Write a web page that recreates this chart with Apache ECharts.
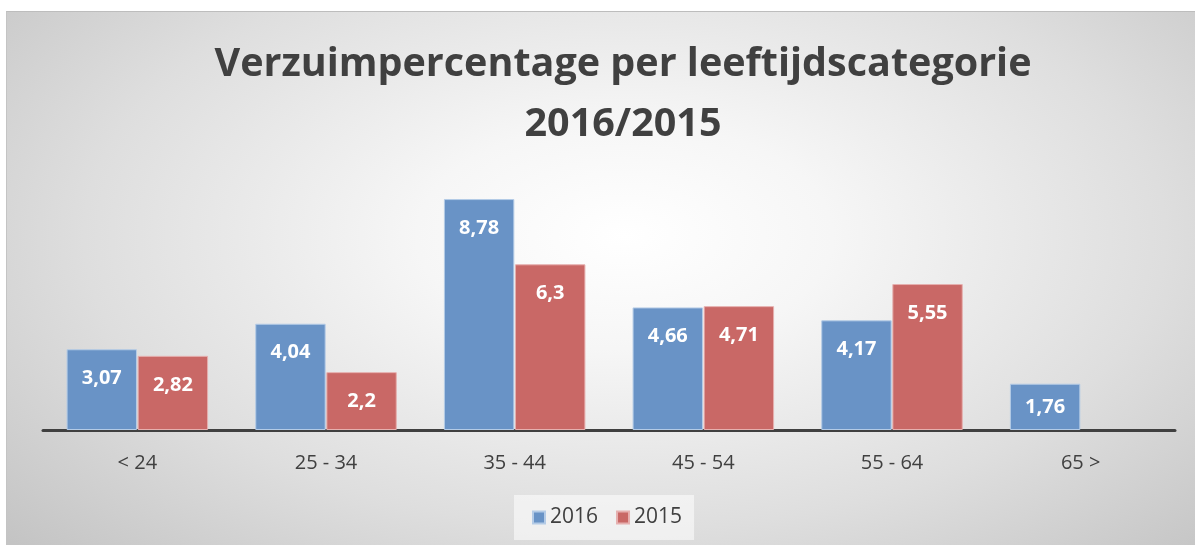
<!DOCTYPE html>
<html>
<head>
<meta charset="utf-8">
<script src="https://cdn.jsdelivr.net/npm/echarts@6/dist/echarts.min.js"></script>
<style>
  html, body { margin: 0; padding: 0; background: #ffffff; }
  #wrap { position: absolute; left: 6px; top: 11px; width: 1189px; height: 534px;
    box-sizing: border-box; border-top: 1px solid #bdbdbd; border-left: 1px solid #c4c4c4;
    background: radial-gradient(ellipse 70% 85% at 52% 42%, #ffffff 0%, #f6f6f6 25%, #dedede 65%, #c4c4c4 100%); }
  #chart { width: 100%; height: 100%; }
</style>
</head>
<body>
<div id="wrap"><div id="chart"></div></div>
<script>
const categories = ['< 24', '25 - 34', '35 - 44', '45 - 54', '55 - 64', '65 >'];
const values2016 = [3.07, 4.04, 8.78, 4.66, 4.17, 1.76];
const values2015 = [2.82, 2.2, 6.3, 4.71, 5.55, null];
const seriesNames = ['2016', '2015'];
const titleLines = ['Verzuimpercentage per leeftijdscategorie', '2016/2015'];

const fmt = v => String(v).replace('.', ',');
const toItems = arr => arr.map(v => v == null ? null : (v < 2
  ? { value: v, label: { position: 'inside' } }
  : v));

const chart = echarts.init(document.getElementById('chart'));
const labelCfg = {
  show: true, position: 'insideTop', distance: 19,
  color: '#ffffff', fontWeight: 'bold', fontSize: 20,
  fontFamily: 'Open Sans',
  formatter: p => fmt(p.value)
};
chart.setOption({
  backgroundColor: 'transparent',
  animation: false,
  title: {
    text: titleLines.join('\n'),
    left: 616, top: 23, padding: 0,
    textAlign: 'center',
    textStyle: { fontFamily: 'Open Sans', fontWeight: 'bold', fontSize: 39.5, color: '#404040', lineHeight: 60 }
  },
  legend: {
    data: seriesNames,
    bottom: 5, left: 507,
    padding: [12, 12, 12, 18],
    backgroundColor: 'rgba(255,255,255,0.55)',
    itemWidth: 12, itemHeight: 12, itemGap: 18,
    icon: 'rect',
    textStyle: { fontFamily: 'Open Sans', fontSize: 21, color: '#404040' }
  },
  grid: { left: 36, right: 20, top: 155, bottom: 115 },
  xAxis: {
    type: 'category', data: categories,
    axisLine: { lineStyle: { color: '#404040', width: 3 } },
    axisTick: { show: false },
    axisLabel: { margin: 23, fontSize: 20, color: '#404040', fontFamily: 'Open Sans' }
  },
  yAxis: {
    type: 'value', min: 0, max: 10,
    show: false, splitLine: { show: false }
  },
  series: [
    { name: seriesNames[0], type: 'bar', data: toItems(values2016),
      barGap: '1%', barCategoryGap: '25%',
      itemStyle: { color: '#6993c6', borderColor: '#b4cbe6', borderWidth: 1 },
      label: labelCfg },
    { name: seriesNames[1], type: 'bar', data: toItems(values2015),
      itemStyle: { color: '#c96866', borderColor: '#e6b0af', borderWidth: 1 },
      label: labelCfg }
  ]
});
</script>
</body>
</html>
